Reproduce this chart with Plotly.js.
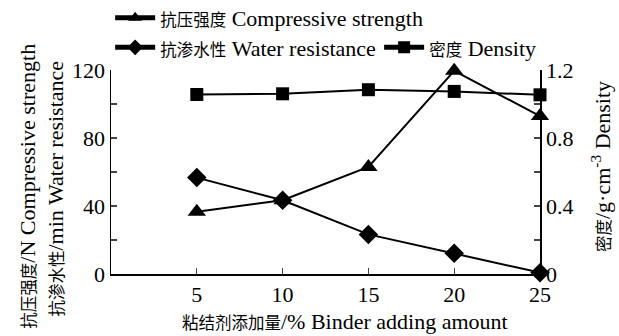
<!DOCTYPE html>
<html>
<head>
<meta charset="utf-8">
<script src="https://cdn.plot.ly/plotly-3.0.1.min.js"></script>
<style>html,body{margin:0;padding:0;background:#fff;}#chart{width:619px;height:336px;}</style>
</head>
<body>
<div id="chart"></div>
<script>
var binder = [5, 10, 15, 20, 25];
var compressive = [36.6, 43.4, 63, 119.5, 92.9];
var water = [56.7, 43.4, 23.3, 12.2, 0.8];
var density = [1.056, 1.06, 1.084, 1.074, 1.054];
var leftTicks = [0, 20, 40, 60, 80, 100, 120];
var leftTickText = ['0', '', '40', '', '80', '', '120'];
var rightTicks = [0, 0.2, 0.4, 0.6, 0.8, 1.0, 1.2];
var rightTickText = ['0', '', '0.4', '', '0.8', '', '1.2'];
var xTicks = [5, 10, 15, 20, 25];

var FONT = 'Liberation Serif, Noto Sans CJK SC, serif';
var FS = 22;
function cjk(s) { return '<span style="font-size:16.5px">' + s + '</span>'; }

var traces = [
  {x: binder, y: compressive, name: cjk('抗压强度') + ' Compressive strength', mode: 'lines+markers',
   line: {color: '#000', width: 2}, marker: {symbol: 'triangle-up', size: 16, color: '#000'},
   cliponaxis: false, legend: 'legend'},
  {x: binder, y: water, name: cjk('抗渗水性') + ' Water resistance', mode: 'lines+markers',
   line: {color: '#000', width: 2}, marker: {symbol: 'diamond', size: 15, color: '#000'},
   cliponaxis: false, legend: 'legend2'},
  {x: binder, y: density, name: cjk('密度') + ' Density', mode: 'lines+markers', yaxis: 'y2',
   line: {color: '#000', width: 2}, marker: {symbol: 'square', size: 13, color: '#000'},
   cliponaxis: false, legend: 'legend3'}
];

function leg(x, y) {
  return {x: x, y: y, xanchor: 'left', yanchor: 'middle', orientation: 'h', itemsizing: 'constant',
          bgcolor: 'rgba(0,0,0,0)', font: {size: FS, family: FONT}, itemwidth: 40};
}

var layout = {
  width: 619, height: 336,
  margin: {l: 111, r: 79, t: 70, b: 62, autoexpand: false},
  paper_bgcolor: '#fff', plot_bgcolor: '#fff',
  font: {family: FONT, size: FS, color: '#000'},
  showlegend: true,
  legend: leg(-0.002, 1.255),
  legend2: leg(-0.002, 1.11),
  legend3: leg(0.625, 1.11),
  xaxis: {range: [0, 25], tickvals: xTicks, ticks: 'inside', ticklen: 6, tickwidth: 1.3,
          showline: true, linecolor: '#000', linewidth: 1.5, showgrid: false, zeroline: false,
          tickfont: {size: FS, family: FONT}},
  yaxis: {range: [0, 120], tickvals: leftTicks, ticktext: leftTickText, ticks: 'inside', ticklen: 6,
          tickwidth: 1.3, showline: true, linecolor: '#000', linewidth: 1.5, showgrid: false,
          zeroline: false, tickfont: {size: FS, family: FONT}},
  yaxis2: {range: [0, 1.2], overlaying: 'y', side: 'right', tickvals: rightTicks, ticktext: rightTickText,
           ticks: 'inside', ticklen: 6, tickwidth: 1.3, showline: true, linecolor: '#000', linewidth: 1.5,
           showgrid: false, zeroline: false, tickfont: {size: FS, family: FONT}},
  annotations: [
    {text: cjk('粘结剂添加量') + '/% Binder adding amount', xref: 'paper', yref: 'paper',
     x: 0.5466, y: -0.235, xanchor: 'center', yanchor: 'middle', showarrow: false, font: {size: FS, family: FONT}},
    {text: cjk('抗压强度') + '/N Compressive strength', xref: 'paper', yref: 'paper',
     x: -0.195, y: 0.43, xanchor: 'center', yanchor: 'middle', textangle: -90, showarrow: false, font: {size: FS, family: FONT}},
    {text: cjk('抗渗水性') + '/min Water resistance', xref: 'paper', yref: 'paper',
     x: -0.13, y: 0.42, xanchor: 'center', yanchor: 'middle', textangle: -90, showarrow: false, font: {size: FS, family: FONT}},
    {text: cjk('密度') + '/g·cm<sup>-3</sup> Density', xref: 'paper', yref: 'paper',
     x: 1.142, y: 0.529, xanchor: 'center', yanchor: 'middle', textangle: -90, showarrow: false, font: {size: FS, family: FONT}}
  ]
};

Plotly.newPlot('chart', traces, layout, {staticPlot: true, displayModeBar: false});
</script>
</body>
</html>
